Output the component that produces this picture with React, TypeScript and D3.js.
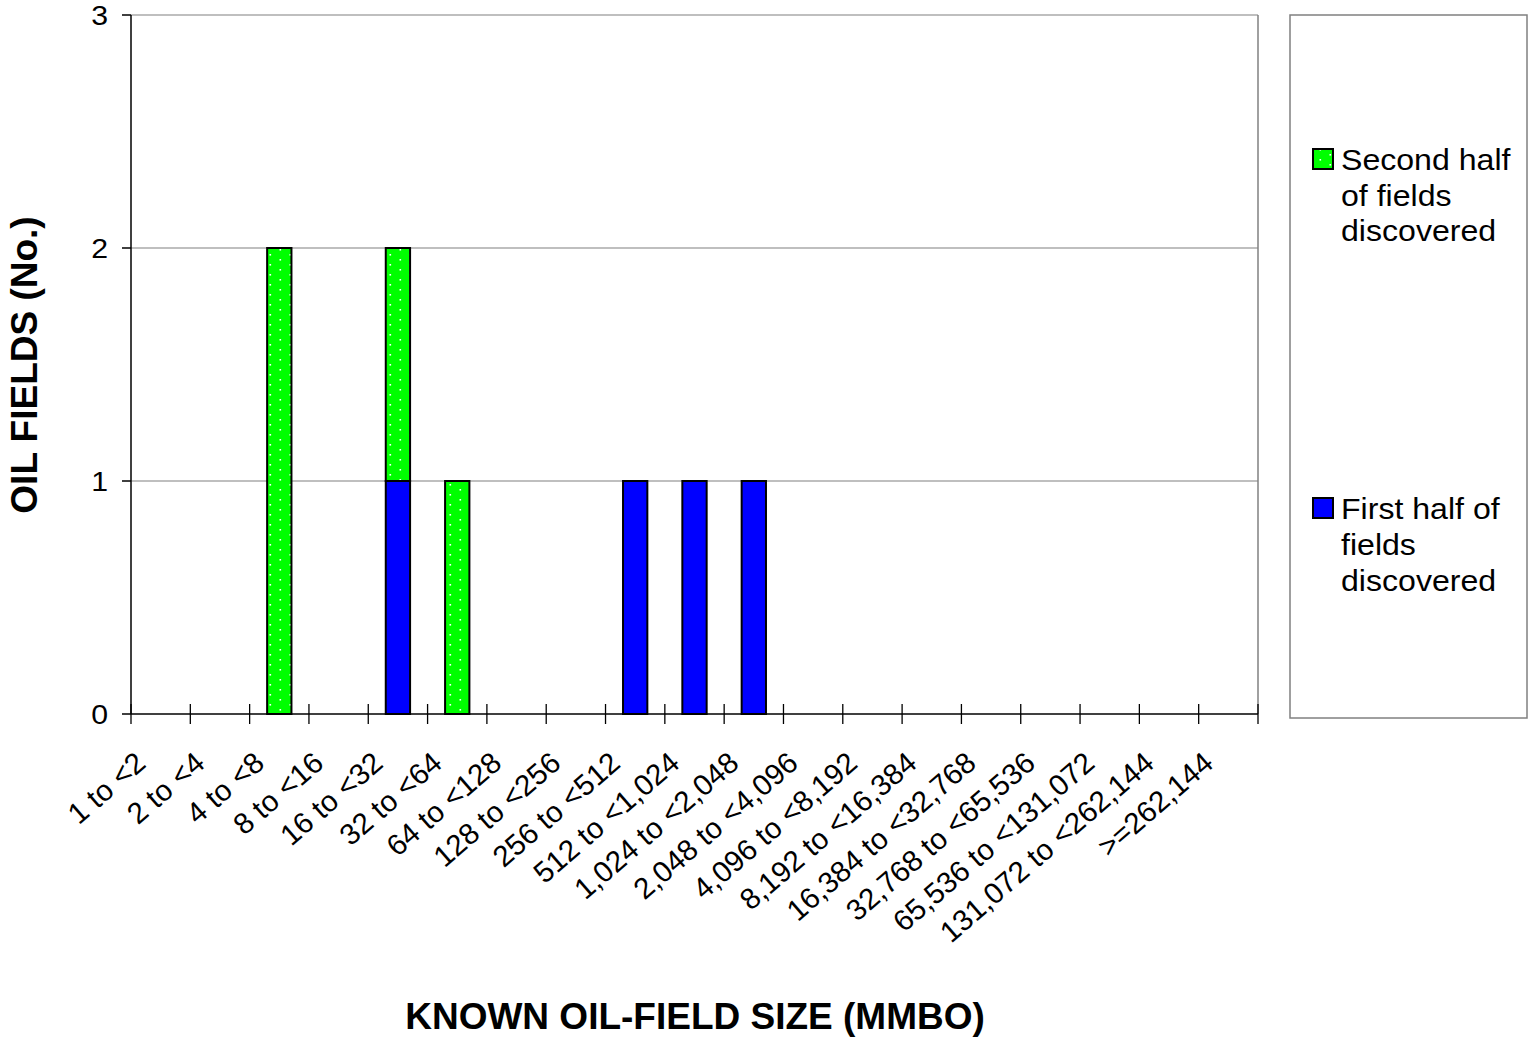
import React from "react";
import * as d3 from "d3";

const categories = [
  "1 to <2", "2 to <4", "4 to <8", "8 to <16", "16 to <32", "32 to <64",
  "64 to <128", "128 to <256", "256 to <512", "512 to <1,024",
  "1,024 to <2,048", "2,048 to <4,096", "4,096 to <8,192",
  "8,192 to <16,384", "16,384 to <32,768", "32,768 to <65,536",
  "65,536 to <131,072", "131,072 to <262,144", ">=262,144",
];
const firstHalf = [0, 0, 0, 0, 1, 0, 0, 0, 1, 1, 1, 0, 0, 0, 0, 0, 0, 0, 0];
const secondHalf = [0, 0, 2, 0, 1, 1, 0, 0, 0, 0, 0, 0, 0, 0, 0, 0, 0, 0, 0];
const yTicks = [0, 1, 2, 3];
const legendSecond = ["Second half", "of fields", "discovered"];
const legendFirst = ["First half of", "fields", "discovered"];

const W = 1528, H = 1037;
const plot = { left: 131, right: 1258, top: 15, bottom: 714 };
const FONT = "'Liberation Sans', Arial, Helvetica, sans-serif";

export default function App() {
  const x = d3.scaleBand<string>().domain(categories).range([plot.left, plot.right]).paddingInner(0).paddingOuter(0);
  const y = d3.scaleLinear().domain([0, 3]).range([plot.bottom, plot.top]);
  const bw = x.bandwidth() * 0.41;
  const stacked = d3.stack<number>().keys(["first", "second"]).value((i, k) => (k === "first" ? firstHalf[i] : secondHalf[i]))(categories.map((_, i) => i));
  const fills = ["#0000FF", "url(#greenDots)"];
  const boundaries = d3.range(categories.length + 1).map((i) => plot.left + i * x.step());

  return (
    <svg width={W} height={H} style={{ position: "absolute", left: 0, top: 0, background: "#fff" }} fontFamily={FONT}>
      <defs>
        <pattern id="greenDots" patternUnits="userSpaceOnUse" width={20} height={10} x={0} y={0}>
          <rect width={20} height={10} fill="#00FF00" />
          <rect x={9.5} y={4} width={1.6} height={1.6} fill="#ffffff" />
          <rect x={-0.5} y={-1} width={1.6} height={1.6} fill="#ffffff" />
          <rect x={19.5} y={-1} width={1.6} height={1.6} fill="#ffffff" />
          <rect x={-0.5} y={9} width={1.6} height={1.6} fill="#ffffff" />
          <rect x={19.5} y={9} width={1.6} height={1.6} fill="#ffffff" />
        </pattern>
      </defs>
      {/* gridlines */}
      {yTicks.filter((t) => t > 0).map((t) => (
        <line key={t} x1={plot.left} x2={plot.right} y1={y(t)} y2={y(t)} stroke="#808080" strokeWidth={1.2} />
      ))}
      <line x1={plot.right} x2={plot.right} y1={plot.top} y2={plot.bottom} stroke="#808080" strokeWidth={1.5} />
      {/* bars */}
      {stacked.map((layer, li) =>
        layer.map((d, i) =>
          d[1] - d[0] > 0 ? (
            <rect key={`${li}-${i}`} x={(x(categories[i]) as number) + x.bandwidth() / 2 - bw / 2} y={y(d[1])}
              width={bw} height={y(d[0]) - y(d[1])} fill={fills[li]} stroke="#000" strokeWidth={2} />
          ) : null
        )
      )}
      {/* axes */}
      <line x1={plot.left} x2={plot.left} y1={plot.top} y2={plot.bottom} stroke="#000" strokeWidth={1.5} />
      <line x1={plot.left} x2={plot.right} y1={plot.bottom} y2={plot.bottom} stroke="#000" strokeWidth={1.5} />
      {yTicks.map((t) => (
        <g key={t}>
          <line x1={plot.left - 9} x2={plot.left} y1={y(t)} y2={y(t)} stroke="#000" strokeWidth={1.5} />
          <text transform={`translate(108,${y(t)}) scale(1.08,1)`} dy="0.36em" textAnchor="end" fontSize={28} fill="#000">{t}</text>
        </g>
      ))}
      {boundaries.map((bx, i) => (
        <line key={i} x1={bx} x2={bx} y1={plot.bottom - 10} y2={plot.bottom + 10} stroke="#000" strokeWidth={1.3} />
      ))}
      {categories.map((c) => (
        <text key={c} transform={`translate(${(x(c) as number) + x.bandwidth() / 2 - 20},${758}) rotate(-41)`}
          textAnchor="end" dy="0.35em" fontSize={29.5} fill="#000">{c}</text>
      ))}
      {/* titles */}
      <text x={695} y={1029} textAnchor="middle" fontSize={37} fontWeight="bold" fill="#000">KNOWN OIL-FIELD SIZE (MMBO)</text>
      <text transform="translate(37,365) rotate(-90)" textAnchor="middle" fontSize={37} fontWeight="bold" fill="#000">OIL FIELDS (No.)</text>
      {/* legend */}
      <rect x={1290} y={15} width={237} height={703} fill="#fff" stroke="#808080" strokeWidth={1.5} />
      <rect x={1313} y={149} width={20} height={20} fill="url(#greenDots)" stroke="#000" strokeWidth={2} />
      {legendSecond.map((s, i) => (
        <text key={s} transform={`translate(1341,${170 + i * 35.5}) scale(1.07,1)`} fontSize={30} fill="#000">{s}</text>
      ))}
      <rect x={1313} y={498} width={20} height={20} fill="#0000FF" stroke="#000" strokeWidth={2} />
      {legendFirst.map((s, i) => (
        <text key={s} transform={`translate(1341,${519 + i * 36}) scale(1.07,1)`} fontSize={30} fill="#000">{s}</text>
      ))}
    </svg>
  );
}
